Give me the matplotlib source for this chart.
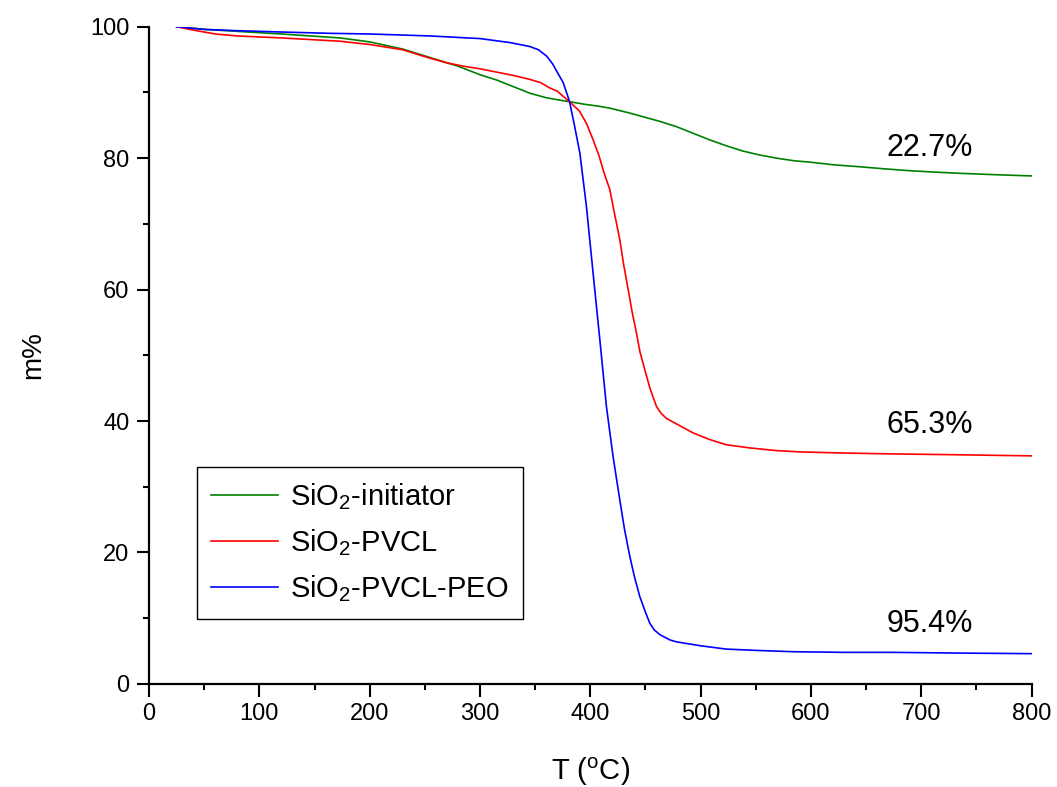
import matplotlib
matplotlib.use('Agg')
import matplotlib.pyplot as plt
from matplotlib.ticker import MultipleLocator

plt.rcParams['font.family'] = ['Liberation Sans', 'DejaVu Sans']
plt.rcParams['mathtext.default'] = 'regular'

# TGA curves: temperature (C) vs remaining mass (%)
t_init = [25, 50, 80, 120, 173, 200, 230, 255, 280, 300, 315, 330, 345, 360, 370, 381,
          395, 408, 418, 435, 448, 463, 478, 493, 508, 523, 538, 553, 569, 585, 599,
          620, 644, 665, 689, 710, 735, 765, 800]
m_init = [100, 99.6, 99.3, 98.9, 98.3, 97.7, 96.6, 95.3, 94.0, 92.7, 91.9, 90.9, 89.9,
          89.2, 88.9, 88.6, 88.2, 87.9, 87.6, 86.9, 86.3, 85.6, 84.8, 83.8, 82.8, 81.9,
          81.1, 80.5, 80.0, 79.6, 79.4, 79.0, 78.7, 78.4, 78.1, 77.9, 77.7, 77.5, 77.3]

t_pvcl = [25, 40, 60, 80, 120, 173, 200, 230, 255, 270, 285, 300, 315, 330, 345, 355,
          363, 370, 381, 390, 396.5, 402.5, 408, 412, 417.7, 422, 426.7, 430, 434.3, 438,
          441.8, 445, 449.4, 454, 460, 464, 469, 481, 493, 508, 523, 545, 569, 590, 614,
          640, 674, 720, 760, 800]
m_pvcl = [100, 99.5, 98.9, 98.6, 98.3, 97.8, 97.3, 96.5, 95.2, 94.5, 94.0, 93.6, 93.1,
          92.6, 92.0, 91.5, 90.7, 90.2, 88.6, 87.2, 85.3, 82.8, 80.3, 78.0, 75.2, 71.5,
          67.6, 64.0, 60.0, 56.5, 53.4, 50.5, 47.8, 45.0, 42.2, 41.2, 40.4, 39.3, 38.2,
          37.2, 36.4, 35.9, 35.5, 35.3, 35.2, 35.1, 35.0, 34.9, 34.8, 34.7]

t_peo = [25, 50, 80, 120, 164, 200, 255, 300, 327, 345, 353, 360.6, 366, 372, 375.4, 381,
         385, 390.5, 396.5, 402.5, 408.6, 414.6, 420.6, 426.7, 431, 435.8, 440, 444.8,
         450, 454, 458, 463, 472, 478, 500, 523, 550, 583.6, 630, 674, 730, 800]
m_peo = [100, 99.6, 99.4, 99.2, 99.0, 98.9, 98.6, 98.2, 97.6, 97.0, 96.5, 95.5, 94.3,
         92.5, 91.5, 88.7, 85.5, 80.8, 72.6, 62.5, 52.4, 42.2, 34.6, 28.0, 23.5, 19.4,
         16.3, 13.3, 10.9, 9.2, 8.2, 7.5, 6.7, 6.4, 5.8, 5.3, 5.1, 4.9, 4.8, 4.8, 4.7, 4.6]

labels = [r'SiO$_2$-initiator', r'SiO$_2$-PVCL', r'SiO$_2$-PVCL-PEO']
colors = ['green', 'red', 'blue']
losses = ['22.7%', '65.3%', '95.4%']
loss_pos = [(708, 81.6), (708, 39.4), (708, 9.1)]

fig = plt.figure(figsize=(10.57, 7.87), dpi=100)
ax = fig.add_axes([0.141, 0.131, 0.835, 0.835])

for t, m, lab, c in zip([t_init, t_pvcl, t_peo], [m_init, m_pvcl, m_peo], labels, colors):
    ax.plot(t, m, color=c, lw=1.2, label=lab)

for txt, (x, y) in zip(losses, loss_pos):
    ax.text(x, y, txt, fontsize=22, ha='center', va='center')

ax.set_xlim(0, 800)
ax.set_ylim(0, 100)
ax.xaxis.set_major_locator(MultipleLocator(100))
ax.xaxis.set_minor_locator(MultipleLocator(50))
ax.yaxis.set_major_locator(MultipleLocator(20))
ax.yaxis.set_minor_locator(MultipleLocator(10))

for s in ['top', 'right']:
    ax.spines[s].set_visible(False)
for s in ['left', 'bottom']:
    ax.spines[s].set_linewidth(1.6)
ax.tick_params(which='major', direction='out', length=9, width=1.5, labelsize=17, pad=5)
ax.tick_params(which='minor', direction='out', length=4.5, width=1.5)

ax.set_xlabel(r'T ($^o$C)', fontsize=21, labelpad=22)
ax.set_ylabel('m%', fontsize=20, labelpad=32)

leg = ax.legend(loc='upper left', bbox_to_anchor=(0.054, 0.330), fontsize=21,
                frameon=True, fancybox=False, framealpha=1, edgecolor='black',
                handlelength=2.3, handletextpad=0.4, labelspacing=0.52,
                borderpad=0.5, borderaxespad=0)
leg.get_frame().set_linewidth(1.0)

fig.savefig('out.png', dpi=100)
